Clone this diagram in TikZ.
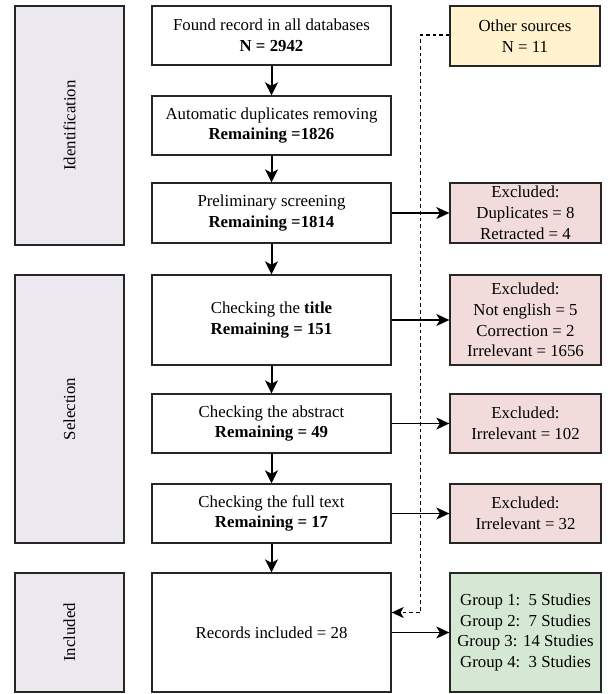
\documentclass[tikz,border=0pt]{standalone}
\usepackage{fontspec}
\setmainfont{Liberation Serif}
\newfontfamily\diagfont{Liberation Serif}
\usetikzlibrary{arrows.meta}

\definecolor{phasefill}{HTML}{EBE8F0}
\definecolor{exclfill}{HTML}{F2DCDB}
\definecolor{srcfill}{HTML}{FFF2CC}
\definecolor{groupfill}{HTML}{D5E8D4}
\definecolor{edge}{HTML}{262626}

\tikzset{
  every node/.style={font=\diagfont\fontsize{16.8}{20.8}\selectfont, align=center, inner sep=0pt},
  box/.style={draw=edge, line width=1.3pt, minimum width=239pt, fill=white},
  phase/.style={draw=edge, line width=1.3pt, fill=phasefill, minimum width=109pt},
  sidebox/.style={draw=edge, line width=1.3pt, minimum width=151pt},
  flow/.style={line width=2pt, -{Stealth[length=13pt, width=13pt, inset=3.5pt]}},
  branch/.style={line width=1.3pt, -{Stealth[length=13pt, width=12pt, inset=3.5pt]}},
  extra/.style={line width=1.2pt, dash pattern=on 3.6pt off 3pt, -{Stealth[length=12pt, width=11pt, inset=3pt]}}
}

\begin{document}
\begin{tikzpicture}[x=1pt, y=-1pt]
\useasboundingbox (0,0) rectangle (608,694);

% phase labels on the left
\node[phase, minimum height=239pt] (ident) at (69.5,125.5) {};
\node[rotate=90] at (ident.center) {Identification};
\node[phase, minimum height=268pt] (select) at (69.5,409) {};
\node[rotate=90] at (select.center) {Selection};
\node[phase, minimum height=119pt] (incl) at (69.5,632.5) {};
\node[rotate=90] at (incl.center) {Included};

% main screening steps
\node[box, minimum height=59pt] (found) at (271.5,35.5) {Found record in all databases\\\textbf{N = 2942}};
\node[box, minimum height=59pt] (dup) at (271.5,125.5) {Automatic duplicates removing\\\textbf{Remaining =1826}};
\node[box, minimum height=60pt] (prelim) at (271.5,213) {Preliminary screening\\\textbf{Remaining =1814}};
\node[box, minimum height=90pt] (title) at (271.5,320) {Checking the \textbf{title}\\\textbf{Remaining = 151}};
\node[box, minimum height=59pt] (abstr) at (271.5,423.5) {Checking the abstract\\\textbf{Remaining = 49}};
\node[box, minimum height=59pt] (full) at (271.5,513.5) {Checking the full text\\\textbf{Remaining = 17}};
\node[box, minimum height=119pt] (final) at (271.5,632.5) {Records included = 28};

% side boxes
\node[sidebox, fill=srcfill, minimum width=150pt, minimum height=60pt] (other) at (525,36) {Other sources\\N = 11};
\node[sidebox, fill=exclfill, minimum height=60pt] (ex1) at (525.5,213) {Excluded:\\Duplicates = 8\\Retracted = 4};
\node[sidebox, fill=exclfill, minimum height=90pt] (ex2) at (525.5,320) {Excluded:\\Not english = 5\\Correction = 2\\Irrelevant = 1656};
\node[sidebox, fill=exclfill, minimum height=59pt] (ex3) at (525.5,423.5) {Excluded:\\Irrelevant = 102};
\node[sidebox, fill=exclfill, minimum height=59pt] (ex4) at (525.5,513.5) {Excluded:\\Irrelevant = 32};
\node[sidebox, fill=groupfill, minimum height=119pt] (groups) at (525.5,632.5) {Group 1:\ \ 5 Studies\\Group 2:\ \ 7 Studies\\Group 3: 14 Studies\\Group 4:\ \ 3 Studies};

% main flow
\draw[flow] (found) -- (dup);
\draw[flow] (dup) -- (prelim);
\draw[flow] (prelim) -- (title);
\draw[flow] (title) -- (abstr);
\draw[flow] (abstr) -- (full);
\draw[flow] (full) -- (final);

% exclusions and results
\draw[branch] (prelim) -- (ex1);
\draw[branch] (title) -- (ex2);
\draw[branch] (abstr) -- (ex3);
\draw[branch] (full) -- (ex4);
\draw[branch] (final) -- (groups);

% records from other sources
\coordinate (bendtop) at (420.7,35);
\coordinate (bendbot) at (420.7,612.5);
\draw[extra] (other.west |- bendtop) -- (bendtop) -- (bendbot) -- (final.east |- bendbot);
\end{tikzpicture}
\end{document}
